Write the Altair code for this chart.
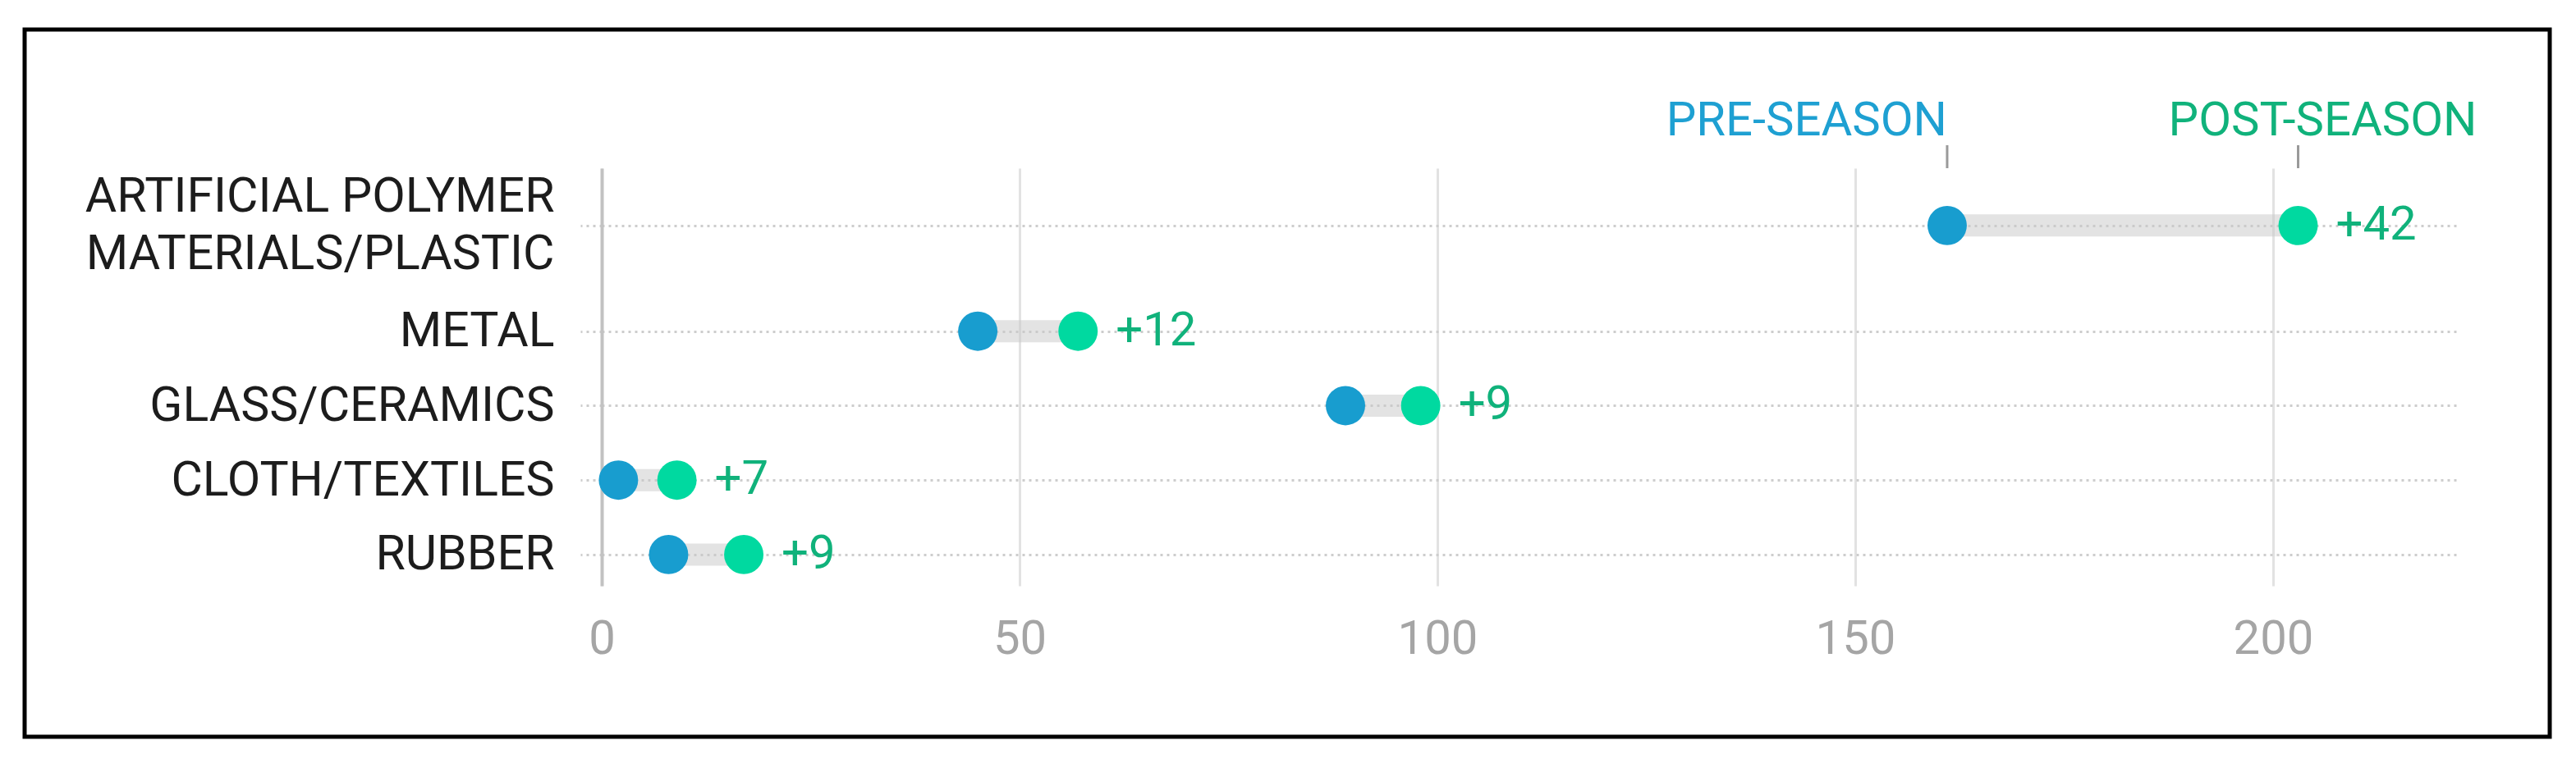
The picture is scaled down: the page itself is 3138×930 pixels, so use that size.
import json
import altair as alt
import pandas as pd

# ---- data ----
categories = [
    "ARTIFICIAL POLYMER\nMATERIALS/PLASTIC",
    "METAL",
    "GLASS/CERAMICS",
    "CLOTH/TEXTILES",
    "RUBBER",
]
pre_season = [161, 45, 89, 2, 8]
post_season = [203, 57, 98, 9, 17]
x_ticks = [0, 50, 100, 150, 200]
series_names = ["PRE-SEASON", "POST-SEASON"]

# ---- styling / layout ----
FONT = "Roboto"
BLUE = "#189dcf"
GREEN = "#00d9a0"
GREEN_TEXT = "#10b27b"
BLUE_TEXT = "#1ea0d2"
FIRST_GAP = 0.42  # extra room below the two-line first row (row units)
LINE_H = 70

row_pos = [i + (FIRST_GAP if i > 0 else 0) for i in range(len(categories))]
label_list = [c.split("\n") if "\n" in c else c for c in categories]
label_expr = (
    f"{json.dumps(label_list)}[datum.value < 0.5 ? 0 : round(datum.value - {FIRST_GAP})]"
)

df = pd.DataFrame(
    {
        "cat": categories,
        "pre": pre_season,
        "post": post_season,
        "row": row_pos,
        "delta": ["+" + str(b - a) for a, b in zip(pre_season, post_season)],
    }
)

W, H = 2264, 509

x_scale = alt.Scale(domain=[0, 222.4], nice=False, zero=True)
y_scale = alt.Scale(domain=[-0.77, 4.84], nice=False, zero=False, reverse=True)

x_axis = alt.Axis(
    values=x_ticks,
    title=None,
    domain=False,
    ticks=False,
    tickSize=0,
    grid=True,
    gridColor="#e2e2e2",
    gridWidth=3,
    labelFont=FONT,
    labelFontSize=58,
    labelColor="#a5a5a5",
    labelPadding=36,
    labelFlush=False,
)
y_axis = alt.Axis(
    values=row_pos,
    labelExpr=label_expr,
    title=None,
    domain=True,
    domainColor="#c2c2c2",
    domainWidth=4,
    ticks=True,
    tickSize=26,
    tickColor="#cdcdcd",
    tickWidth=3,
    tickDash=[3, 5],
    grid=True,
    gridColor="#cdcdcd",
    gridWidth=3,
    gridDash=[3, 5],
    labelFont=FONT,
    labelFontSize=59,
    labelColor="#1c1c1c",
    labelPadding=32,
    labelLineHeight=LINE_H,
    labelLimit=900,
    labelOffset={"condition": {"test": "datum.value < 0.5", "value": -LINE_H / 2}, "value": 0},
    labelOverlap=False,
    labelFlush=False,
)

base = alt.Chart(df)
Y = alt.Y("row:Q", scale=y_scale, axis=y_axis)

connector = base.mark_rule(strokeWidth=27, color="#c8c8c8", opacity=0.5).encode(
    x=alt.X("pre:Q", scale=x_scale, axis=x_axis),
    x2="post:Q",
    y=Y,
)

pre_dots = base.mark_circle(size=2300, opacity=1, color=BLUE).encode(
    x=alt.X("pre:Q", scale=x_scale), y=alt.Y("row:Q", scale=y_scale)
)
post_dots = base.mark_circle(size=2300, opacity=1, color=GREEN).encode(
    x=alt.X("post:Q", scale=x_scale), y=alt.Y("row:Q", scale=y_scale)
)

deltas = base.mark_text(
    align="left", baseline="middle", dx=46, font=FONT, fontSize=58, color=GREEN_TEXT
).encode(
    x=alt.X("post:Q", scale=x_scale),
    y=alt.Y("row:Q", scale=y_scale),
    text="delta:N",
)

first = base.transform_filter(alt.datum.row == 0)

pre_label = first.mark_text(
    align="right", baseline="alphabetic", dx=0, font=FONT, fontSize=58, color=BLUE_TEXT
).encode(
    x=alt.X("pre:Q", scale=x_scale),
    y=alt.value(-40),
    text=alt.value(series_names[0]),
)
post_label = first.mark_text(
    align="center", baseline="alphabetic", dx=30, font=FONT, fontSize=58, color=GREEN_TEXT
).encode(
    x=alt.X("post:Q", scale=x_scale),
    y=alt.value(-40),
    text=alt.value(series_names[1]),
)
pre_tick = first.mark_rule(color="#9a9a9a", strokeWidth=3).encode(
    x=alt.X("pre:Q", scale=x_scale), y=alt.value(-28), y2=alt.value(0)
)
post_tick = first.mark_rule(color="#9a9a9a", strokeWidth=3).encode(
    x=alt.X("post:Q", scale=x_scale), y=alt.value(-28), y2=alt.value(0)
)

frame = (
    alt.Chart(pd.DataFrame({"f": [0]}))
    .mark_rect(fillOpacity=0, stroke="black", strokeWidth=5)
    .encode(
        x=alt.value(-703),
        x2=alt.value(2373),
        y=alt.value(-169),
        y2=alt.value(693),
    )
)

chart = (
    alt.layer(
        connector,
        pre_dots,
        post_dots,
        deltas,
        pre_tick,
        post_tick,
        pre_label,
        post_label,
        frame,
    )
    .properties(
        width=W,
        height=H,
        autosize=alt.AutoSizeParams(type="none"),
        padding={"left": 725, "top": 197, "right": 133, "bottom": 208},
        background="white",
    )
    .configure_view(stroke=None)
)

chart.save("out.html", embed_options={"renderer": "svg", "actions": False})
